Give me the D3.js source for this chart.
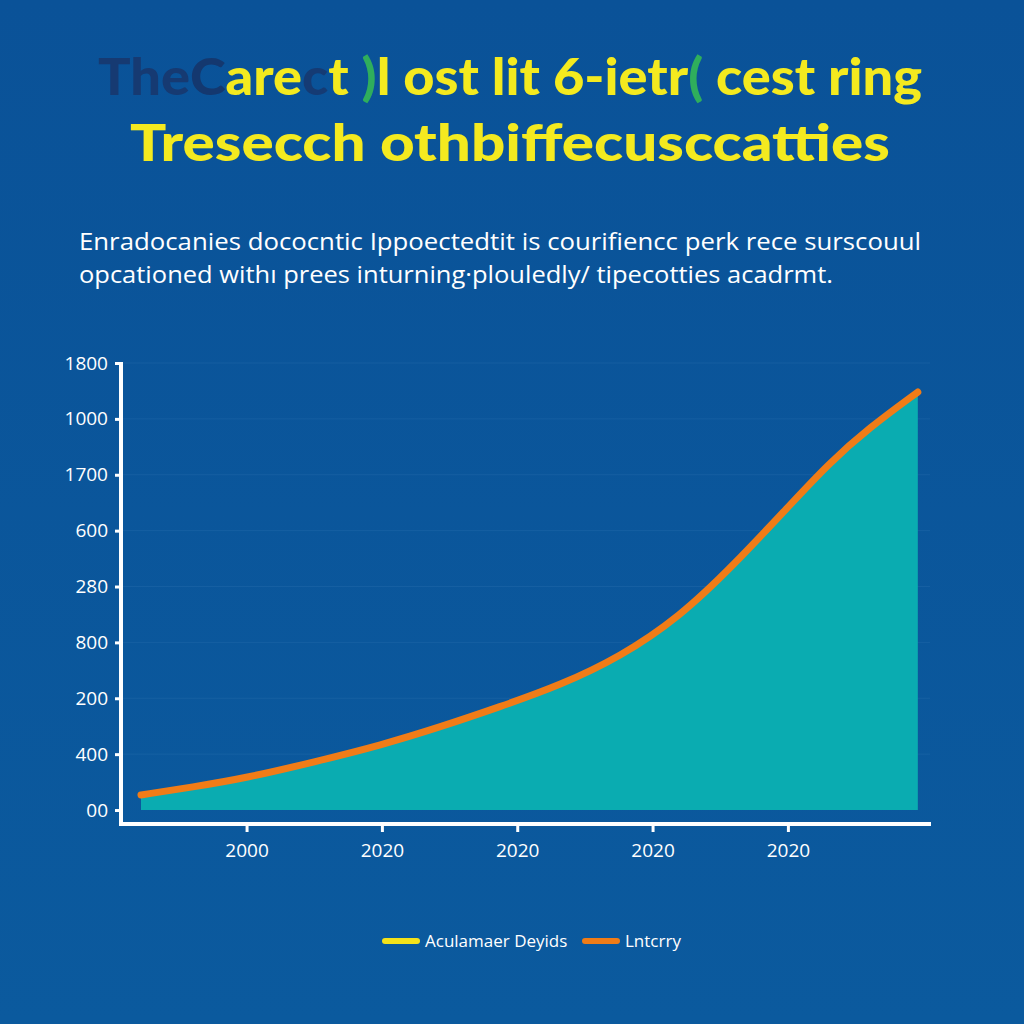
<!DOCTYPE html>
<html>
<head>
<meta charset="utf-8">
<script src="https://cdn.jsdelivr.net/npm/d3@7"></script>
<style>
  html, body { margin: 0; padding: 0; background: #0b559b; }
  svg { display: block; }
  .tick text { font-family: "Open Sans", "DejaVu Sans", sans-serif; }
</style>
</head>
<body>
<script>
// chart data
var years = [1992.2, 1996, 2000, 2005, 2010, 2014.3, 2018.7, 2023.2, 2027.6, 2032, 2036, 2040, 2043, 2046, 2049.6];
var values = [54, 82, 115, 172, 233, 297, 369, 447, 548, 691, 877, 1084, 1240, 1368, 1496];

var xTickYears = [2000, 2010, 2020, 2030, 2040];
var xTickLabels = ["2000", "2020", "2020", "2020", "2020"];
var yTickValues = [0, 200, 400, 600, 800, 1000, 1200, 1400, 1600];
var yTickLabels = ["00", "400", "200", "800", "280", "600", "1700", "1000", "1800"];

var legendLabels = ["Aculamaer Deyids", "Lntcrry"];
var legendColors = ["#f4e21a", "#f07c17"];

var titleLine1 = [
  { t: "The", c: "#163a72" },
  { t: "C", c: "#14386f" },
  { t: "are", c: "#f4ea1f" },
  { t: "c", c: "#153b74" },
  { t: "t ", c: "#f4ea1f" },
  { t: ")", c: "#2fae5c" },
  { t: "l ost lit  6-ietr", c: "#f4ea1f" },
  { t: "(", c: "#2fae5c" },
  { t: " cest ring", c: "#f4ea1f" }
];
var titleLine2 = "Tresecch othbiffecusccatties";
var subtitle = [
  "Enradocanies dococntic Ippoectedtit is courifiencc perk rece surscouul",
  "opcationed with\u0131 prees inturning\u00b7plouledly/ tipecotties acadrmt."
];

var svgWidth = 1024;
var svgHeight = 1024;

var svg = d3.select("body")
  .append("svg")
  .attr("width", svgWidth)
  .attr("height", svgHeight);

// background with a slight gradient
var defs = svg.append("defs");
var bg = defs.append("linearGradient")
  .attr("id", "bg")
  .attr("x1", 0).attr("y1", 0).attr("x2", 0).attr("y2", 1);
bg.append("stop").attr("offset", "0%").attr("stop-color", "#0a5298");
bg.append("stop").attr("offset", "100%").attr("stop-color", "#0b5a9e");

svg.append("rect")
  .attr("width", svgWidth)
  .attr("height", svgHeight)
  .attr("fill", "url(#bg)");

// titles
var titleFont = "Lato, 'DejaVu Sans', sans-serif";
var t1 = svg.append("text")
  .attr("x", 98)
  .attr("y", 95)
  .attr("font-family", titleFont)
  .attr("font-weight", 900)
  .attr("font-size", 51)
  .attr("textLength", 824)
  .attr("lengthAdjust", "spacingAndGlyphs");
t1.selectAll("tspan")
  .data(titleLine1)
  .enter()
  .append("tspan")
  .attr("fill", d => d.c)
  .text(d => d.t);

svg.append("text")
  .attr("x", 130)
  .attr("y", 161)
  .attr("font-family", titleFont)
  .attr("font-weight", 900)
  .attr("font-size", 51)
  .attr("fill", "#f4ea1f")
  .attr("textLength", 760)
  .attr("lengthAdjust", "spacingAndGlyphs")
  .text(titleLine2);

var subWidths = [842, 754];
svg.selectAll(".subtitle")
  .data(subtitle)
  .enter()
  .append("text")
  .attr("class", "subtitle")
  .attr("x", 79)
  .attr("y", (d, i) => 250 + i * 33)
  .attr("font-family", "'Open Sans', 'DejaVu Sans', sans-serif")
  .attr("font-size", 24)
  .attr("fill", "#ffffff")
  .attr("textLength", (d, i) => subWidths[i])
  .attr("lengthAdjust", "spacingAndGlyphs")
  .text(d => d);

// scales
var xScale = d3.scaleLinear()
  .domain([1990.5, 2050.5])
  .range([118, 930]);

var yScale = d3.scaleLinear()
  .domain([-50, 1600])
  .range([824, 363]);

var data = years.map((y, i) => ({ year: y, value: values[i] }));

// gridlines
svg.append("g")
  .selectAll("line")
  .data(yTickValues.slice(1))
  .enter()
  .append("line")
  .attr("x1", 122)
  .attr("x2", 930)
  .attr("y1", d => yScale(d))
  .attr("y2", d => yScale(d))
  .attr("stroke", "#2a6fb0")
  .attr("stroke-opacity", 0.35)
  .attr("stroke-width", 1);

// area + line
var area = d3.area()
  .x(d => xScale(d.year))
  .y0(yScale(0))
  .y1(d => yScale(d.value))
  .curve(d3.curveBasis);

var line = d3.line()
  .x(d => xScale(d.year))
  .y(d => yScale(d.value))
  .curve(d3.curveBasis);

svg.append("path")
  .datum(data)
  .attr("d", area)
  .attr("fill", "#0aacb1");

svg.append("path")
  .datum(data)
  .attr("d", line)
  .attr("fill", "none")
  .attr("stroke", "#f07c17")
  .attr("stroke-width", 7)
  .attr("stroke-linecap", "round");

// axes
var xAxis = d3.axisBottom(xScale)
  .tickValues(xTickYears)
  .tickFormat((d, i) => xTickLabels[i])
  .tickSize(8)
  .tickPadding(12);

var yAxis = d3.axisLeft(yScale)
  .tickValues(yTickValues)
  .tickFormat((d, i) => yTickLabels[i])
  .tickSize(6)
  .tickPadding(7);

var gx = svg.append("g")
  .attr("transform", "translate(0, 824)")
  .call(xAxis);

var gy = svg.append("g")
  .attr("transform", "translate(121, 0)")
  .call(yAxis);

[gx, gy].forEach(function(g) {
  g.select(".domain").remove();
  g.selectAll(".tick line")
    .attr("stroke", "#ffffff")
    .attr("stroke-width", 3);
  g.selectAll(".tick text")
    .attr("fill", "#ffffff")
    .attr("font-size", 19);
});

// axis lines
svg.append("line")
  .attr("x1", 121).attr("x2", 121)
  .attr("y1", 362).attr("y2", 826)
  .attr("stroke", "#ffffff")
  .attr("stroke-width", 4);

svg.append("line")
  .attr("x1", 119).attr("x2", 931)
  .attr("y1", 824).attr("y2", 824)
  .attr("stroke", "#ffffff")
  .attr("stroke-width", 4);

// legend
var legendX = [385, 585];
var legend = svg.append("g");
var items = legend.selectAll("g")
  .data(legendLabels)
  .enter()
  .append("g")
  .attr("transform", (d, i) => `translate(${legendX[i]}, 941)`);

items.append("line")
  .attr("x1", 0).attr("x2", 32)
  .attr("y1", 0).attr("y2", 0)
  .attr("stroke", (d, i) => legendColors[i])
  .attr("stroke-width", 6)
  .attr("stroke-linecap", "round");

items.append("text")
  .attr("x", 40)
  .attr("y", 6)
  .attr("font-family", "'Open Sans', 'DejaVu Sans', sans-serif")
  .attr("font-size", 17)
  .attr("fill", "#ffffff")
  .text(d => d);
</script>
</body>
</html>
